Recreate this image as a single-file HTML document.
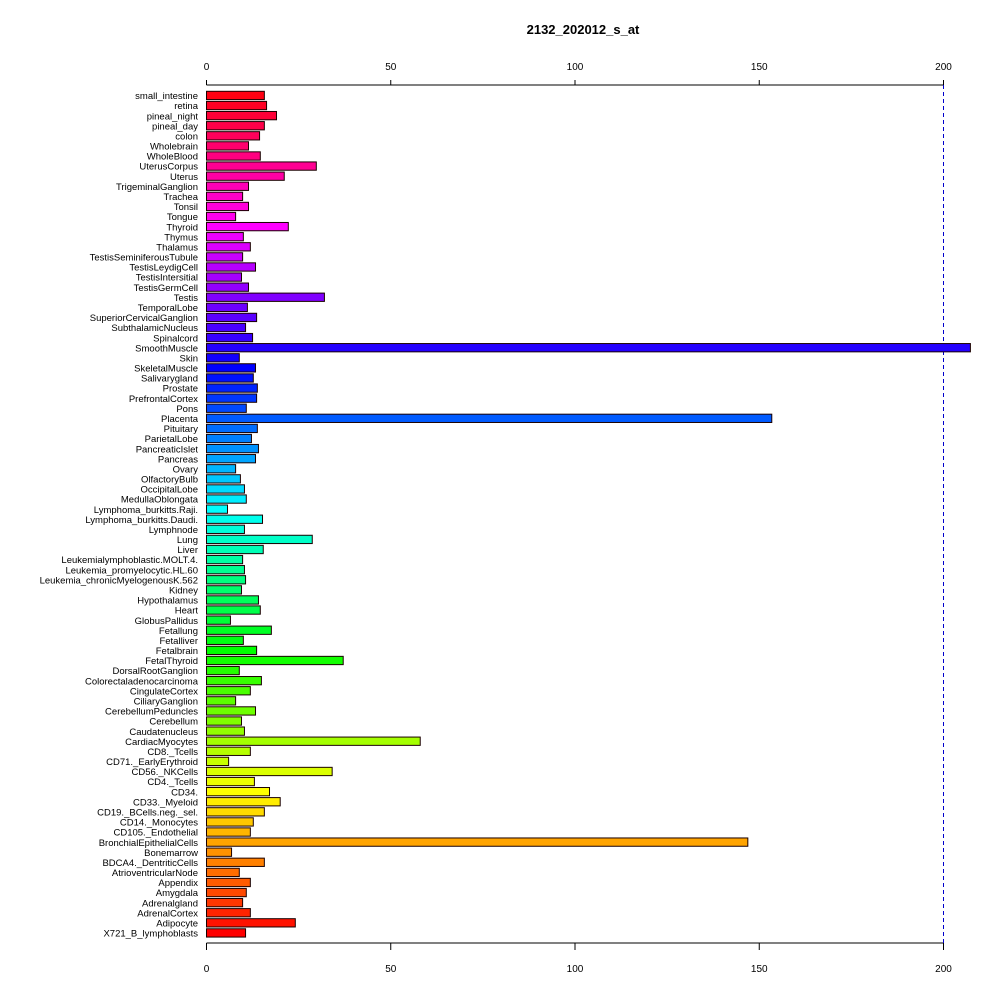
<!DOCTYPE html>
<html><head><meta charset="utf-8"><style>
body{margin:0;background:#fff}
svg{display:block;font-family:"Liberation Sans",sans-serif}
</style></head><body>
<svg id="chart" width="1000" height="1000">
<text x="583" y="34" text-anchor="middle" font-size="13" font-weight="bold">2132_202012_s_at</text>
<g id="axes"></g><g id="bars"></g>
</svg>
<script>
const categories=["small_intestine","retina","pineal_night","pineal_day","colon","Wholebrain","WholeBlood","UterusCorpus","Uterus","TrigeminalGanglion","Trachea","Tonsil","Tongue","Thyroid","Thymus","Thalamus","TestisSeminiferousTubule","TestisLeydigCell","TestisIntersitial","TestisGermCell","Testis","TemporalLobe","SuperiorCervicalGanglion","SubthalamicNucleus","Spinalcord","SmoothMuscle","Skin","SkeletalMuscle","Salivarygland","Prostate","PrefrontalCortex","Pons","Placenta","Pituitary","ParietalLobe","PancreaticIslet","Pancreas","Ovary","OlfactoryBulb","OccipitalLobe","MedullaOblongata","Lymphoma_burkitts.Raji.","Lymphoma_burkitts.Daudi.","Lymphnode","Lung","Liver","Leukemialymphoblastic.MOLT.4.","Leukemia_promyelocytic.HL.60","Leukemia_chronicMyelogenousK.562","Kidney","Hypothalamus","Heart","GlobusPallidus","Fetallung","Fetalliver","Fetalbrain","FetalThyroid","DorsalRootGanglion","Colorectaladenocarcinoma","CingulateCortex","CiliaryGanglion","CerebellumPeduncles","Cerebellum","Caudatenucleus","CardiacMyocytes","CD8._Tcells","CD71._EarlyErythroid","CD56._NKCells","CD4._Tcells","CD34.","CD33._Myeloid","CD19._BCells.neg._sel.","CD14._Monocytes","CD105._Endothelial","BronchialEpithelialCells","Bonemarrow","BDCA4._DentriticCells","AtrioventricularNode","Appendix","Amygdala","Adrenalgland","AdrenalCortex","Adipocyte","X721_B_lymphoblasts"];
const values=[15.7,16.3,19,15.7,14.4,11.4,14.6,29.8,21.1,11.4,9.8,11.4,7.9,22.2,10,11.9,9.8,13.3,9.5,11.4,32,11.1,13.6,10.6,12.5,207.3,8.9,13.3,12.7,13.8,13.6,10.8,153.4,13.8,12.2,14.1,13.3,7.9,9.2,10.3,10.8,5.7,15.2,10.3,28.7,15.4,9.8,10.3,10.6,9.5,14.1,14.6,6.5,17.6,10,13.6,37.1,8.9,14.9,11.9,7.9,13.3,9.5,10.3,58,11.9,6,34.1,13,17.1,20,15.7,12.7,11.9,146.9,6.8,15.7,8.9,11.9,10.8,9.8,11.9,24.1,10.6];
const ticks=[0,50,100,150,200];
const refLine=200;
const NS="http://www.w3.org/2000/svg";
const X0=206.5,SC=3.685,TOPY=91.3,PITCH=10.09,BH=8.3,AXT=85,AXB=943;
const xs=v=>X0+v*SC;
function mk(t,a,p){const e=document.createElementNS(NS,t);for(const k in a)e.setAttribute(k,a[k]);p.appendChild(e);return e;}
const ax=document.getElementById('axes'),bg=document.getElementById('bars');
const topAx=mk('line',{x1:xs(ticks[0]),x2:xs(ticks[ticks.length-1]),y1:AXT,y2:AXT,stroke:'#000'},ax);


const botAx=mk('line',{x1:xs(ticks[0]),x2:xs(ticks[ticks.length-1]),y1:AXB,y2:AXB,stroke:'#000'},ax);


ticks.forEach(t=>{
  const a=mk('line',{x1:xs(t),x2:xs(t),y1:AXT-5,y2:AXT,stroke:'#000'},ax);
  
  
  const b=mk('line',{x1:xs(t),x2:xs(t),y1:AXB,y2:AXB+7,stroke:'#000'},ax);
  
  
  const l1=mk('text',{x:xs(t),y:70,'text-anchor':'middle','font-size':10},ax);l1.textContent=t;
  
  
  const l2=mk('text',{x:xs(t),y:972,'text-anchor':'middle','font-size':10},ax);l2.textContent=t;
  
  
});
const n=categories.length;
categories.forEach((c,i)=>{
  const y=TOPY+i*PITCH;
  const hue=360*(1-(i+1)/n);
  const r=mk('rect',{x:xs(0),y:y,width:Math.max(0,xs(values[i])-xs(0)),height:BH,fill:`hsl(${hue},100%,50%)`,stroke:'#1a0000','stroke-width':1},bg);
  
  
  const t=mk('text',{x:198,y:y+BH-0.5,'text-anchor':'end','font-size':9.5},bg);t.textContent=c;
  
  
});
const d=mk('line',{x1:xs(refLine),x2:xs(refLine),y1:AXT,y2:AXB,stroke:'#0000cc','stroke-dasharray':'4,3'},ax);


</script>
</body></html>
